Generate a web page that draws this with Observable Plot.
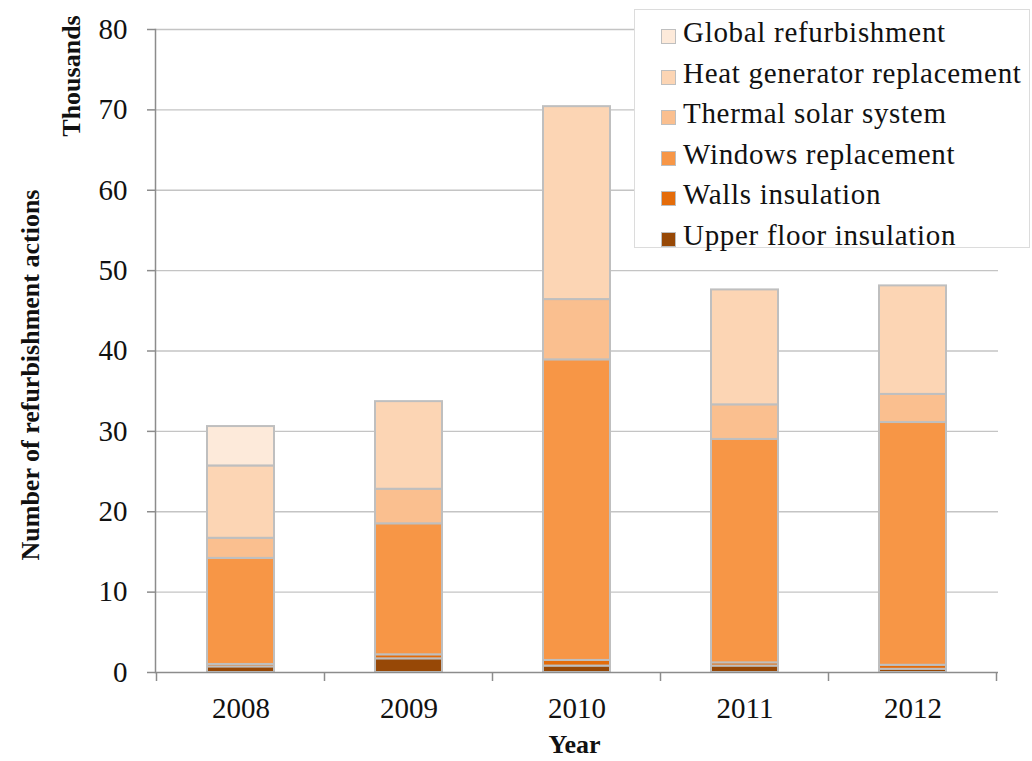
<!DOCTYPE html>
<html><head><meta charset="utf-8">
<script src="https://cdn.jsdelivr.net/npm/d3@7"></script>
<script src="https://cdn.jsdelivr.net/npm/@observablehq/plot@0.6"></script>
<style>
body{margin:0;background:#fff;font-family:"Liberation Serif","Times New Roman",serif;}
#wrap{position:relative;width:1032px;height:761px;overflow:hidden;}
#legend{position:absolute;left:634px;top:9px;width:396px;height:239px;box-sizing:border-box;border:1.5px solid #dcdcdc;background:#fff;}
.item{position:absolute;left:0;height:30px;font-size:29px;color:#111;white-space:nowrap;}
.sw{position:absolute;left:26px;top:12px;width:15px;height:15px;box-sizing:border-box;border:1.5px solid #bfbfbf;}
.lbl{position:absolute;left:48px;top:0;line-height:30px;letter-spacing:0.7px;}
</style>
</head><body>
<div id="wrap"><div id="legend"></div></div>
<script>
const years = ["2008", "2009", "2010", "2011", "2012"];
const series = ["Upper floor insulation", "Walls insulation", "Windows replacement", "Thermal solar system", "Heat generator replacement", "Global refurbishment"];
const colors = ["#974806", "#E46C0A", "#F79646", "#FABF8F", "#FCD5B4", "#FDEADA"];
// values in thousands, bottom to top of each stack
const upperFloor = [0.7, 1.7, 0.8, 0.8, 0.4];
const walls      = [0.3, 0.5, 0.7, 0.4, 0.5];
const windows    = [13.2, 16.3, 37.4, 27.8, 30.2];
const thermal    = [2.5, 4.3, 7.5, 4.3, 3.5];
const heat       = [9.0, 10.9, 24.0, 14.3, 13.5];
const global     = [4.9, 0, 0, 0, 0];
const yTicks = [0, 10, 20, 30, 40, 50, 60, 70, 80];

const values = [upperFloor, walls, windows, thermal, heat, global];
const table = [];
series.forEach((s, i) => years.forEach((y, j) => {
  if (values[i][j] > 0) table.push({year: y, series: s, value: values[i][j]});
}));

const font = '"Liberation Serif","Times New Roman",serif';
const plot = Plot.plot({
  width: 1032, height: 761,
  marginLeft: 155, marginRight: 34, marginTop: 29, marginBottom: 89,
  style: {fontFamily: font, fontSize: "29px", color: "#111", background: "transparent"},
  x: {domain: years, paddingInner: 0.6, paddingOuter: 0.3, label: null},
  y: {domain: [0, 80], label: null},
  color: {domain: series, range: colors},
  marks: [
    Plot.gridY(yTicks.filter(d => d > 0), {stroke: "#c4c4c4", strokeOpacity: 1, strokeWidth: 1.3}),
    Plot.barY(table, Plot.stackY({x: "year", y: "value", fill: "series", order: series, stroke: "#bfbfbf", strokeWidth: 2})),
    Plot.ruleY([0], {stroke: "#8c8c8c", strokeWidth: 1.5}),
    Plot.frame({anchor: "left", stroke: "#8c8c8c", strokeWidth: 1.5}),
    Plot.axisY(yTicks, {tickSize: 8, tickPadding: 20, stroke: "#8c8c8c", strokeWidth: 1.5, fill: "#111", fontSize: 29, label: null}),
    Plot.axisX({tickSize: 0, tickPadding: 25, fill: "#111", fontSize: 29, label: null})
  ]
});
document.getElementById("wrap").prepend(plot);

// category boundary ticks and axis titles
const svg = d3.select(plot);
const xs = plot.scale("x");
const ys = plot.scale("y");
const step = xs.apply(years[1]) - xs.apply(years[0]);
const bw = xs.bandwidth;
const bounds = years.map(y => xs.apply(y) + bw / 2 - step / 2).concat([xs.apply(years[years.length - 1]) + bw / 2 + step / 2]);
const y0 = ys.apply(0);
svg.append("g").selectAll("line").data(bounds).join("line")
  .attr("x1", d => d).attr("x2", d => d).attr("y1", y0).attr("y2", y0 + 9)
  .attr("stroke", "#8c8c8c").attr("stroke-width", 1.5);

svg.append("text").attr("transform", "translate(80,76) rotate(-90)")
  .attr("text-anchor", "middle").attr("font-weight", "bold").attr("font-size", 26).attr("fill", "#111")
  .attr("font-family", font).text("Thousands");
svg.append("text").attr("transform", "translate(39,375) rotate(-90)")
  .attr("text-anchor", "middle").attr("font-weight", "bold").attr("font-size", 26).attr("fill", "#111")
  .attr("font-family", font).text("Number of refurbishment actions");
svg.append("text").attr("x", (155 + 998) / 2 - 2).attr("y", 753)
  .attr("text-anchor", "middle").attr("font-weight", "bold").attr("font-size", 26).attr("fill", "#111")
  .attr("font-family", font).text("Year");

// legend (top to bottom: reverse stacking order)
const legend = document.getElementById("legend");
series.slice().reverse().forEach((s, i) => {
  const c = colors[series.indexOf(s)];
  const item = document.createElement("div");
  item.className = "item";
  item.style.top = (7 + i * 40.5) + "px";
  item.innerHTML = `<div class="sw" style="background:${c}"></div><div class="lbl">${s}</div>`;
  legend.appendChild(item);
});
</script>
</body></html>
